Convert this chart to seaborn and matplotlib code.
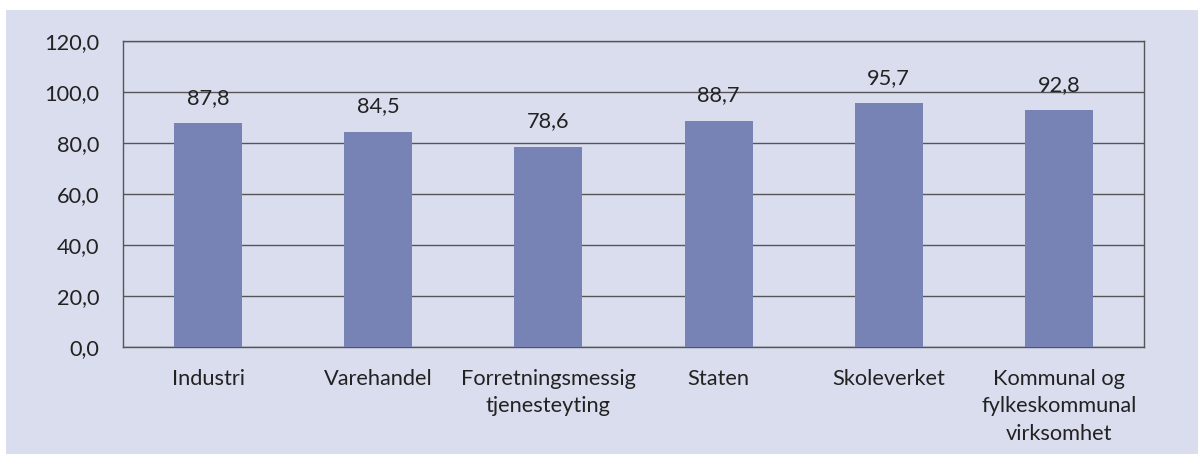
import matplotlib
matplotlib.use("Agg")
import matplotlib.pyplot as plt
import seaborn as sns
import pandas as pd
from matplotlib.patches import Rectangle

categories = ["Industri", "Varehandel", "Forretningsmessig\ntjenesteyting", "Staten",
              "Skoleverket", "Kommunal og\nfylkeskommunal\nvirksomhet"]
values = [87.8, 84.5, 78.6, 88.7, 95.7, 92.8]
value_labels = ["87,8", "84,5", "78,6", "88,7", "95,7", "92,8"]
yticks = [0, 20, 40, 60, 80, 100, 120]
ytick_labels = ["0,0", "20,0", "40,0", "60,0", "80,0", "100,0", "120,0"]

sns.set_style("white")
plt.rcParams["font.family"] = ["Lato", "DejaVu Sans"]

BG = "#DADDEE"
BAR = "#7783B5"
GRID = "#555555"
TXT = "#222222"
FS = 15.7

fig = plt.figure(figsize=(11.98, 4.54), dpi=100)
fig.patch.set_facecolor("white")
fig.add_artist(Rectangle((6 / 1198, 0), 1 - 6 / 1198, 1 - 10 / 454,
                         transform=fig.transFigure, facecolor=BG, edgecolor="none", zorder=-10))

ax = fig.add_axes([123 / 1198, 1 - 347 / 454, (1144 - 123) / 1198, (347 - 41) / 454])
ax.set_facecolor(BG)

df = pd.DataFrame({"cat": categories, "val": values})
sns.barplot(data=df, x="cat", y="val", color=BAR, width=0.4, saturation=1,
            edgecolor="none", ax=ax, zorder=3)

ax.set_ylim(0, 120)
ax.set_xlim(-0.5, len(categories) - 0.5)
ax.set_yticks(yticks)
ax.set_yticklabels(ytick_labels, fontsize=FS, color=TXT)
ax.yaxis.grid(True, color=GRID, linewidth=1, zorder=0)
ax.set_axisbelow(True)

ax.set_xticks(range(len(categories)))
ax.set_xticklabels(categories, fontsize=FS, color=TXT, linespacing=1.45)
ax.tick_params(axis="x", length=0, pad=16)
ax.tick_params(axis="y", length=6, width=1, color=GRID, direction="out", pad=11)
ax.set_xticks([i - 0.5 for i in range(len(categories) + 1)], minor=True)
ax.tick_params(axis="x", which="minor", length=6, width=1, color=GRID, direction="out")

for s in ["left", "right", "bottom", "top"]:
    ax.spines[s].set_visible(True)
    ax.spines[s].set_color(GRID)
    ax.spines[s].set_linewidth(1)

for i, (v, lab) in enumerate(zip(values, value_labels)):
    ax.annotate(lab, (i, v), xytext=(0, 11), textcoords="offset points",
                ha="center", va="bottom", fontsize=FS, color=TXT)

ax.set_xlabel("")
ax.set_ylabel("")

fig.savefig("out.png", dpi=100, facecolor=fig.get_facecolor())
